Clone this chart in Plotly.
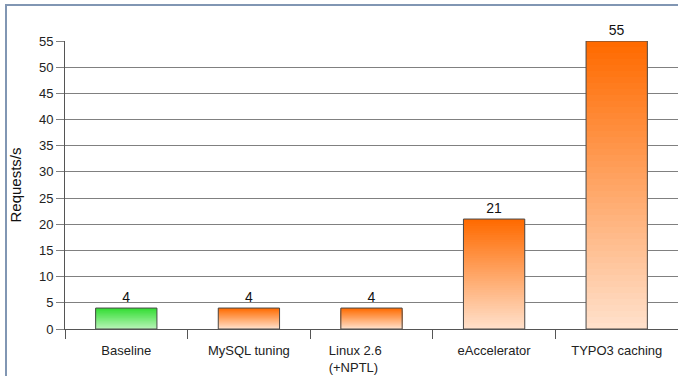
import plotly.graph_objects as go

categories = ["Baseline", "MySQL tuning", "Linux 2.6<br>(+NPTL)", "eAccelerator", "TYPO3 caching"]
values = [4, 4, 4, 21, 55]
y_ticks = [0, 5, 10, 15, 20, 25, 30, 35, 40, 45, 50, 55]

# gradient end colours (top, bottom) per bar
top_colors = [(0x33, 0xDD, 0x33), (0xFF, 0x6A, 0x00), (0xFF, 0x6A, 0x00), (0xFF, 0x6A, 0x00), (0xFF, 0x6A, 0x00)]
bot_colors = [(0xB8, 0xF4, 0xB8), (0xFF, 0xE0, 0xCA), (0xFF, 0xE0, 0xCA), (0xFF, 0xE0, 0xCA), (0xFF, 0xE0, 0xCA)]

# pad the two-line label so it reads left-aligned like the original
nb = "\u00a0"
labels = [c for c in categories]
labels[2] = "Linux 2.6" + nb * 9 + "<br>(+NPTL)" + nb * 10

FONT = "Liberation Sans, Arial, sans-serif"
N = 48
W = 0.5

fig = go.Figure()
for k in range(N):
    frac = (N - k) / N
    t = k / (N - 1)
    cols = []
    for tc, bc in zip(top_colors, bot_colors):
        c = tuple(round(tc[i] + (bc[i] - tc[i]) * t) for i in range(3))
        cols.append("rgb(%d,%d,%d)" % c)
    fig.add_trace(go.Bar(
        x=labels, y=[v * frac for v in values], width=W,
        marker=dict(color=cols, line=dict(width=0)),
        hoverinfo="skip", showlegend=False,
    ))

# outline + value labels
fig.add_trace(go.Bar(
    x=labels, y=values, width=W,
    marker=dict(color="rgba(0,0,0,0)", line=dict(color="#4a4a4a", width=1)),
    text=[str(v) for v in values], textposition="outside",
    textfont=dict(family=FONT, size=14, color="#111111"),
    cliponaxis=False, showlegend=False,
))

fig.update_layout(
    barmode="overlay",
    width=678, height=376,
    margin=dict(l=65, r=0, t=41, b=47),
    paper_bgcolor="white", plot_bgcolor="white",
    font=dict(family=FONT, size=13, color="#222222"),
    xaxis=dict(
        type="category", showgrid=False,
        showline=True, linecolor="#555555", linewidth=1,
        ticks="outside", tickson="boundaries", ticklen=9, tickcolor="#555555",
        ticklabelstandoff=9,
        tickfont=dict(family=FONT, size=13, color="#222222"),
    ),
    yaxis=dict(
        range=[0, 55], tickvals=y_ticks,
        showgrid=True, gridcolor="#808080", gridwidth=1,
        showline=True, linecolor="#555555", linewidth=1,
        ticks="outside", ticklen=8, tickcolor="#808080",
        tickfont=dict(family=FONT, size=13, color="#222222"),
        zeroline=False,
        title=dict(text="Requests/s", font=dict(family=FONT, size=15, color="#111111"), standoff=13),
    ),
    shapes=[dict(
        type="rect", xref="paper", yref="paper",
        x0=(6 - 65) / 613, x1=1.5, y0=-0.5, y1=(329 - 5) / 288,
        line=dict(color="#8196b3", width=2), fillcolor="rgba(0,0,0,0)", layer="below",
    )],
)

fig.write_html("out.html")
